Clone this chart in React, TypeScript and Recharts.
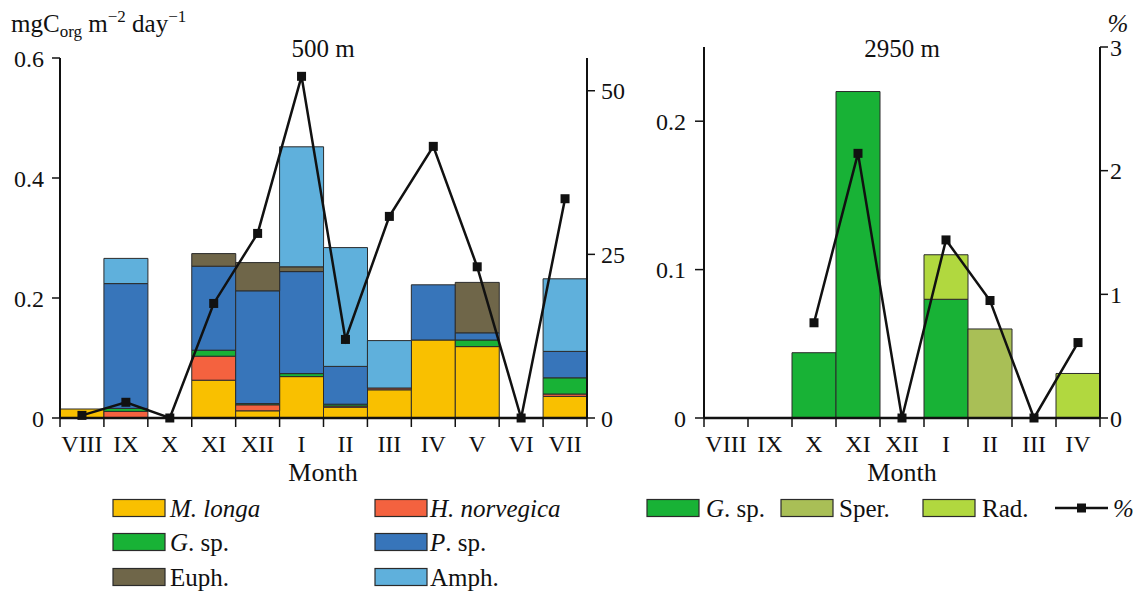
import { ComposedChart, Bar, Line, XAxis, YAxis } from "recharts";

// 500 m trap, monthly fluxes (mgC m-2 day-1) by group
const months500 = ["VIII", "IX", "X", "XI", "XII", "I", "II", "III", "IV", "V", "VI", "VII"];
const mLonga = [0.015, 0, 0, 0.063, 0.012, 0.069, 0.018, 0.047, 0.13, 0.119, 0, 0.036];
const hNorvegica = [0, 0.011, 0, 0.04, 0.01, 0, 0.002, 0.003, 0, 0, 0, 0.004];
const gSp500 = [0, 0.005, 0, 0.01, 0.002, 0.005, 0.003, 0, 0, 0.011, 0, 0.027];
const pSp = [0, 0.208, 0, 0.14, 0.188, 0.17, 0.063, 0, 0.092, 0.012, 0, 0.044];
const euph = [0, 0, 0, 0.021, 0.047, 0.008, 0, 0, 0, 0.084, 0, 0];
const amph = [0, 0.042, 0, 0, 0, 0.2, 0.198, 0.079, 0, 0, 0, 0.121];
const pct500 = [0.4, 2.4, 0, 17.5, 28.2, 52.2, 12.0, 30.8, 41.5, 23.1, 0, 33.5];

// 2950 m trap
const months2950 = ["VIII", "IX", "X", "XI", "XII", "I", "II", "III", "IV"];
const gSp2950 = [0, 0, 0.044, 0.22, 0, 0.08, 0, 0, 0];
const sper = [0, 0, 0, 0, 0, 0, 0.06, 0, 0];
const rad = [0, 0, 0, 0, 0, 0.03, 0, 0, 0.03];
const pct2950 = [null, null, 0.77, 2.14, 0, 1.44, 0.95, 0, 0.61];

const ticks500Left = [0, 0.2, 0.4, 0.6];
const ticks500Right = [0, 25, 50];
const ticks2950Left = [0, 0.1, 0.2];
const ticks2950Right = [0, 1, 2, 3];

const C = {
  mLonga: "#F9C000",
  hNorv: "#F4623F",
  gSp: "#18B236",
  pSp: "#3775BA",
  euph: "#6F6649",
  amph: "#5FB0DC",
  sper: "#A9BF56",
  rad: "#B1D83F",
};

const FONT = "'Liberation Serif', 'Times New Roman', serif";
const INK = "#111";
const EDGE = "#2b2b2b";

const data500 = months500.map((m, i) => ({
  month: m,
  mLonga: mLonga[i],
  hNorv: hNorvegica[i],
  gSp: gSp500[i],
  pSp: pSp[i],
  euph: euph[i],
  amph: amph[i],
  pct: pct500[i],
}));

const data2950 = months2950.map((m, i) => ({
  month: m,
  gSp: gSp2950[i],
  sper: sper[i],
  rad: rad[i],
  pct: pct2950[i],
}));

const makeTick = (last: string) => (props: any) => {
  const { x, y, payload } = props;
  const half = payload && payload.offset ? payload.offset : 22;
  return (
    <g>
      <line x1={x - half} x2={x - half} y1={y} y2={y + 9} stroke={INK} strokeWidth={1.5} />
      {payload.value === last && (
        <line x1={x + half} x2={x + half} y1={y} y2={y + 9} stroke={INK} strokeWidth={1.5} />
      )}
      <text x={x} y={y + 34} textAnchor="middle" fontSize={24} fontFamily={FONT} fill={INK}>
        {payload.value}
      </text>
    </g>
  );
};

const squareDot = (p: any) => {
  const { cx, cy, index } = p;
  if (cx == null || cy == null || p.value == null) return <g key={`d${index}`} />;
  return <rect key={`d${index}`} x={cx - 4.5} y={cy - 4.5} width={9} height={9} fill={INK} />;
};

const yTick = { fontSize: 24, fontFamily: FONT, fill: INK };

function Swatch({ x, y, fill }: { x: number; y: number; fill: string }) {
  return <rect x={x} y={y} width={52} height={17} fill={fill} stroke={EDGE} strokeWidth={1.2} />;
}

export default function App() {
  const barProps = { stroke: EDGE, strokeWidth: 1, isAnimationActive: false } as const;
  return (
    <div style={{ position: "fixed", left: 0, top: 0, width: 1137, height: 593, background: "#fff" }}>
      <div style={{ position: "absolute", left: 0, top: 0 }}>
        <ComposedChart
          width={640}
          height={480}
          data={data500}
          margin={{ top: 58, right: 0, bottom: 0, left: 0 }}
          barCategoryGap={0}
          barGap={0}
        >
          <XAxis
            dataKey="month"
            interval={0}
            height={62}
            tickLine={false}
            tickSize={0}
            tickMargin={0}
            axisLine={{ stroke: INK, strokeWidth: 2.5 }}
            tick={makeTick(months500[months500.length - 1])}
          />
          <YAxis
            yAxisId="mass"
            width={60}
            domain={[0, 0.6]}
            ticks={ticks500Left}
            tick={yTick}
            tickSize={8}
            tickMargin={8}
            axisLine={{ stroke: INK, strokeWidth: 2 }}
            tickLine={{ stroke: INK, strokeWidth: 1.5 }}
            tickFormatter={(v) => String(v)}
          />
          <YAxis
            yAxisId="pct"
            orientation="right"
            width={53}
            domain={[0, 55]}
            ticks={ticks500Right}
            tick={yTick}
            tickSize={8}
            tickMargin={6}
            axisLine={{ stroke: INK, strokeWidth: 2 }}
            tickLine={{ stroke: INK, strokeWidth: 1.5 }}
          />
          <Bar yAxisId="mass" dataKey="mLonga" stackId="s" fill={C.mLonga} {...barProps} />
          <Bar yAxisId="mass" dataKey="hNorv" stackId="s" fill={C.hNorv} {...barProps} />
          <Bar yAxisId="mass" dataKey="gSp" stackId="s" fill={C.gSp} {...barProps} />
          <Bar yAxisId="mass" dataKey="pSp" stackId="s" fill={C.pSp} {...barProps} />
          <Bar yAxisId="mass" dataKey="euph" stackId="s" fill={C.euph} {...barProps} />
          <Bar yAxisId="mass" dataKey="amph" stackId="s" fill={C.amph} {...barProps} />
          <Line
            yAxisId="pct"
            type="linear"
            dataKey="pct"
            stroke={INK}
            strokeWidth={2.5}
            dot={squareDot}
            activeDot={false}
            isAnimationActive={false}
          />
        </ComposedChart>
      </div>

      <div style={{ position: "absolute", left: 640, top: 0 }}>
        <ComposedChart
          width={497}
          height={480}
          data={data2950}
          margin={{ top: 47, right: 0, bottom: 0, left: 0 }}
          barCategoryGap={0}
          barGap={0}
        >
          <XAxis
            dataKey="month"
            interval={0}
            height={62}
            tickLine={false}
            tickSize={0}
            tickMargin={0}
            axisLine={{ stroke: INK, strokeWidth: 2.5 }}
            tick={makeTick(months2950[months2950.length - 1])}
          />
          <YAxis
            yAxisId="mass"
            width={64}
            domain={[0, 0.25]}
            ticks={ticks2950Left}
            tick={yTick}
            tickSize={9}
            tickMargin={9}
            axisLine={{ stroke: INK, strokeWidth: 2 }}
            tickLine={{ stroke: INK, strokeWidth: 1.5 }}
            tickFormatter={(v) => String(v)}
          />
          <YAxis
            yAxisId="pct"
            orientation="right"
            width={37}
            domain={[0, 3]}
            ticks={ticks2950Right}
            tick={yTick}
            tickSize={8}
            tickMargin={2}
            axisLine={{ stroke: INK, strokeWidth: 2 }}
            tickLine={{ stroke: INK, strokeWidth: 1.5 }}
          />
          <Bar yAxisId="mass" dataKey="gSp" stackId="s" fill={C.gSp} {...barProps} />
          <Bar yAxisId="mass" dataKey="sper" stackId="s" fill={C.sper} {...barProps} />
          <Bar yAxisId="mass" dataKey="rad" stackId="s" fill={C.rad} {...barProps} />
          <Line
            yAxisId="pct"
            type="linear"
            dataKey="pct"
            stroke={INK}
            strokeWidth={2.5}
            dot={squareDot}
            activeDot={false}
            isAnimationActive={false}
          />
        </ComposedChart>
      </div>

      {/* titles, axis units and legends */}
      <svg
        width={1137}
        height={593}
        style={{ position: "absolute", left: 0, top: 0, pointerEvents: "none" }}
        fontFamily={FONT}
        fill={INK}
      >
        <text x={11} y={32} fontSize={25}>
          mgC<tspan fontSize={17} dy={5}>org</tspan>
          <tspan dy={-5}> m</tspan>
          <tspan fontSize={17} dy={-10}>−2</tspan>
          <tspan dy={10}> day</tspan>
          <tspan fontSize={17} dy={-10}>−1</tspan>
        </text>
        <text x={1118} y={32} fontSize={25} fontStyle="italic" textAnchor="middle">%</text>
        <text x={323} y={57} fontSize={25} textAnchor="middle">500 m</text>
        <text x={902} y={57} fontSize={25} textAnchor="middle">2950 m</text>
        <text x={323} y={481} fontSize={26} textAnchor="middle">Month</text>
        <text x={902} y={481} fontSize={26} textAnchor="middle">Month</text>

        <Swatch x={113} y={499.5} fill={C.mLonga} />
        <text x={170} y={516.5} fontSize={25} fontStyle="italic">M. longa</text>
        <Swatch x={375} y={499.5} fill={C.hNorv} />
        <text x={430} y={516.5} fontSize={25} fontStyle="italic">H. norvegica</text>
        <Swatch x={113} y={533.5} fill={C.gSp} />
        <text x={170} y={550.5} fontSize={25}>
          <tspan fontStyle="italic">G</tspan>. sp.
        </text>
        <Swatch x={375} y={533.5} fill={C.pSp} />
        <text x={430} y={550.5} fontSize={25}>
          <tspan fontStyle="italic">P</tspan>. sp.
        </text>
        <Swatch x={113} y={568.5} fill={C.euph} />
        <text x={170} y={585.5} fontSize={25}>Euph.</text>
        <Swatch x={375} y={568.5} fill={C.amph} />
        <text x={430} y={585.5} fontSize={25}>Amph.</text>

        <Swatch x={647} y={499.5} fill={C.gSp} />
        <text x={706} y={516.5} fontSize={25}>
          <tspan fontStyle="italic">G</tspan>. sp.
        </text>
        <Swatch x={781} y={499.5} fill={C.sper} />
        <text x={839} y={516.5} fontSize={25}>Sper.</text>
        <Swatch x={923} y={499.5} fill={C.rad} />
        <text x={982} y={516.5} fontSize={25}>Rad.</text>
        <line x1={1055} x2={1108} y1={508} y2={508} stroke={INK} strokeWidth={2.5} />
        <rect x={1077} y={503.5} width={9} height={9} fill={INK} />
        <text x={1113} y={516.5} fontSize={25} fontStyle="italic">%</text>
      </svg>
    </div>
  );
}
